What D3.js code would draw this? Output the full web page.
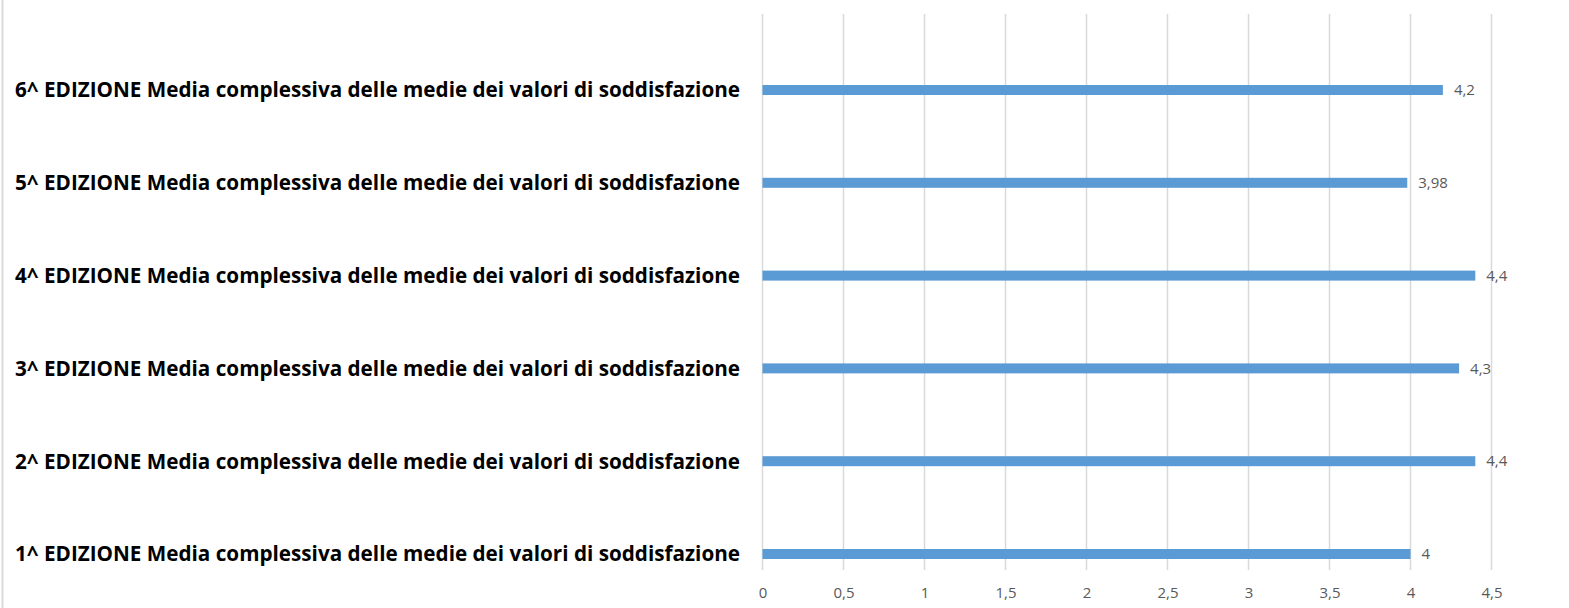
<!DOCTYPE html>
<html>
<head>
<meta charset="utf-8">
<script src="https://cdn.jsdelivr.net/npm/d3@7"></script>
<style>
  body { margin: 0; background: #fff; }
</style>
</head>
<body>
<svg id="chart"></svg>
<script>
const WIDTH = 1569;
const HEIGHT = 608;

// top to bottom, as in the picture
const categories = [
  "6^ EDIZIONE Media complessiva delle medie dei valori di soddisfazione",
  "5^ EDIZIONE Media complessiva delle medie dei valori di soddisfazione",
  "4^ EDIZIONE Media complessiva delle medie dei valori di soddisfazione",
  "3^ EDIZIONE Media complessiva delle medie dei valori di soddisfazione",
  "2^ EDIZIONE Media complessiva delle medie dei valori di soddisfazione",
  "1^ EDIZIONE Media complessiva delle medie dei valori di soddisfazione",
];
const values = [4.2, 3.98, 4.4, 4.3, 4.4, 4];
const tickValues = [0, 0.5, 1, 1.5, 2, 2.5, 3, 3.5, 4, 4.5];

const fmt = (v) => String(v).replace(".", ",");

const svg = d3.select("#chart").attr("width", WIDTH).attr("height", HEIGHT);

const x = d3.scaleLinear().domain([0, 4.5]).range([762.5, 1491.5]);
const y = d3.scaleBand().domain(categories).range([43.6, 600.4]);

// outer frame line on the left
svg.append("line")
  .attr("x1", 2.5).attr("x2", 2.5)
  .attr("y1", 0).attr("y2", HEIGHT)
  .attr("stroke", "#d9d9d9")
  .attr("stroke-width", 2);

// vertical gridlines
svg.append("g")
  .selectAll("line")
  .data(tickValues)
  .join("line")
  .attr("x1", (d) => x(d)).attr("x2", (d) => x(d))
  .attr("y1", 14).attr("y2", 570)
  .attr("stroke", "#d9d9d9")
  .attr("stroke-width", 1.5);

// x axis labels
const xAxis = d3.axisBottom(x).tickValues(tickValues).tickFormat(fmt).tickSize(0).tickPadding(0);
const gx = svg.append("g").attr("transform", "translate(0,587)").call(xAxis);
gx.select(".domain").remove();
gx.selectAll("text")
  .attr("font-family", "Open Sans, sans-serif")
  .attr("font-size", 15)
  .attr("fill", "#595959");

// category labels
svg.append("g")
  .selectAll("text")
  .data(categories)
  .join("text")
  .attr("x", 740)
  .attr("y", (d) => y(d) + y.bandwidth() / 2)
  .attr("dy", "0.35em")
  .attr("text-anchor", "end")
  .attr("font-family", "Open Sans, sans-serif")
  .attr("font-weight", "bold")
  .attr("font-size", 21)
  .attr("fill", "#000")
  .text((d) => d)
  .each(function () {
    const len = this.getComputedTextLength();
    if (len > 0) d3.select(this).attr("textLength", 725).attr("lengthAdjust", "spacingAndGlyphs");
  });

// bars
const barH = 10;
svg.append("g")
  .selectAll("rect")
  .data(values)
  .join("rect")
  .attr("x", x(0))
  .attr("y", (d, i) => y(categories[i]) + y.bandwidth() / 2 - barH / 2)
  .attr("width", (d) => x(d) - x(0))
  .attr("height", barH)
  .attr("fill", "#5b9bd5");

// value labels
svg.append("g")
  .selectAll("text")
  .data(values)
  .join("text")
  .attr("x", (d) => x(d) + 11)
  .attr("y", (d, i) => y(categories[i]) + y.bandwidth() / 2)
  .attr("dy", "0.35em")
  .attr("font-family", "Open Sans, sans-serif")
  .attr("font-size", 15)
  .attr("fill", "#595959")
  .text(fmt);
</script>
</body>
</html>
